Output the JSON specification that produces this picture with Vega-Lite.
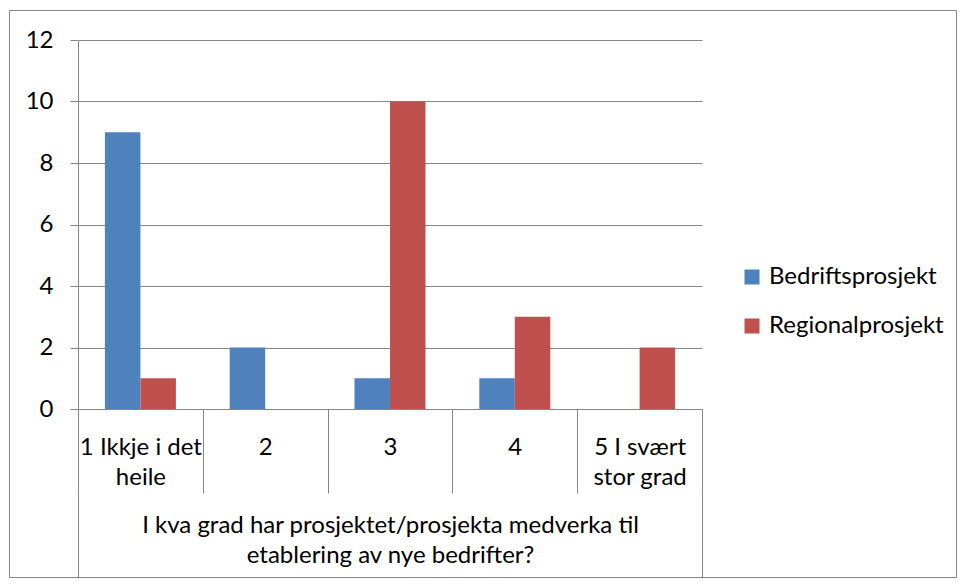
{
  "$schema": "https://vega.github.io/schema/vega-lite/v6.json",
  "width": 947,
  "height": 567,
  "padding": {"left": 9, "top": 10, "right": 9, "bottom": 8},
  "autosize": {"type": "pad"},
  "background": "white",
  "config": {
    "font": "Lato",
    "view": {"stroke": "#868686", "strokeWidth": 1},
    "axis": {"labelColor": "black", "labelFont": "Lato", "domainColor": "#868686", "tickColor": "#868686", "gridColor": "#868686"}
  },
  "layer": [
    {
      "data": {
        "values": [
          {"category": "1 Ikkje i det|heile", "series": "Bedriftsprosjekt", "value": 9},
          {"category": "1 Ikkje i det|heile", "series": "Regionalprosjekt", "value": 1},
          {"category": "2", "series": "Bedriftsprosjekt", "value": 2},
          {"category": "2", "series": "Regionalprosjekt", "value": 0},
          {"category": "3", "series": "Bedriftsprosjekt", "value": 1},
          {"category": "3", "series": "Regionalprosjekt", "value": 10},
          {"category": "4", "series": "Bedriftsprosjekt", "value": 1},
          {"category": "4", "series": "Regionalprosjekt", "value": 3},
          {"category": "5 I svært|stor grad", "series": "Bedriftsprosjekt", "value": 0},
          {"category": "5 I svært|stor grad", "series": "Regionalprosjekt", "value": 2}
        ]
      },
      "mark": {"type": "bar"},
      "encoding": {
        "x": {
          "field": "category", "type": "nominal", "sort": null,
          "scale": {"type": "band", "range": [69, 693], "paddingInner": 0, "paddingOuter": 0},
          "axis": {
            "orient": "bottom", "offset": -168, "tickBand": "extent", "tickSize": 84,
            "labelPadding": -58, "labelExpr": "split(datum.label, '|')", "labelFontSize": 24,
            "labelLineHeight": 30, "labelLimit": 0, "labelOverlap": false, "labelAngle": 0,
            "title": null, "grid": false
          }
        },
        "xOffset": {"field": "series", "type": "nominal", "sort": null, "scale": {"paddingInner": 0, "paddingOuter": 0.758}},
        "y": {
          "field": "value", "type": "quantitative",
          "scale": {"domain": [0, 12], "range": [399, 30], "nice": false, "zero": true},
          "axis": {
            "values": [0, 2, 4, 6, 8, 10, 12], "offset": -69, "tickSize": 8, "labelPadding": 17,
            "labelFontSize": 24, "title": null, "grid": true
          }
        },
        "color": {
          "field": "series", "type": "nominal",
          "scale": {"domain": ["Bedriftsprosjekt", "Regionalprosjekt"], "range": ["#4F81BD", "#C0504D"]},
          "legend": {
            "orient": "none", "legendX": 731, "legendY": 255, "title": null,
            "symbolType": "square", "symbolSize": 225, "symbolStrokeWidth": 0,
            "labelFontSize": 24, "labelColor": "black", "labelLimit": 0, "rowPadding": 25, "labelOffset": 5
          }
        }
      }
    },
    {
      "data": {"values": [{"group": "I kva grad har prosjektet/prosjekta medverka til|etablering av nye bedrifter?"}]},
      "mark": {"type": "bar", "opacity": 0},
      "encoding": {
        "x": {
          "field": "group", "type": "nominal",
          "scale": {"type": "band", "range": [69, 693], "paddingInner": 0, "paddingOuter": 0},
          "axis": {
            "orient": "bottom", "offset": -84, "tickBand": "extent", "tickSize": 84, "domain": false,
            "labelPadding": -64, "labelExpr": "split(datum.label, '|')", "labelFontSize": 24,
            "labelLineHeight": 30, "labelLimit": 0, "labelOverlap": false, "labelAngle": 0,
            "title": null, "grid": false
          }
        }
      }
    }
  ],
  "resolve": {"scale": {"x": "independent"}, "axis": {"x": "independent"}}
}
